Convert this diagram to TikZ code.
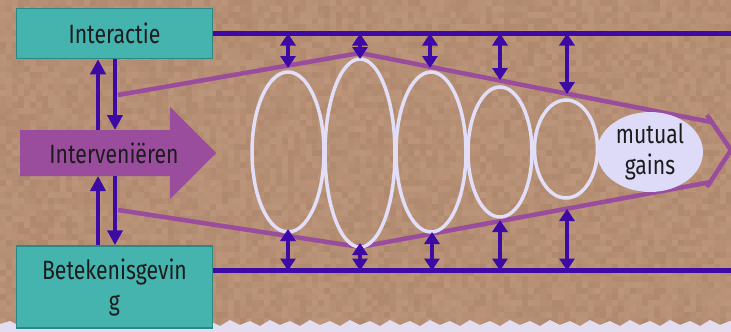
\documentclass[tikz,border=0pt]{standalone}
\usepackage{fontspec}
\setmainfont{Fira Sans}[FakeStretch=0.8]
\usetikzlibrary{arrows.meta,shapes.geometric}

\definecolor{paperlight}{HTML}{C29C80}
\definecolor{paperdark}{HTML}{A98268}
\definecolor{tealbox}{HTML}{45B3AE}
\definecolor{tealedge}{HTML}{2A8984}
\definecolor{indigo}{HTML}{3D0AA6}
\definecolor{plum}{HTML}{9A4C9D}
\definecolor{lilac}{HTML}{E2DEF8}
\definecolor{lilacfill}{HTML}{DEDBF8}
\definecolor{ink}{HTML}{1C1C1C}
\definecolor{strip}{HTML}{E4DDEF}

\tikzset{
  label text/.style={font=\fontsize{26.5}{31}\selectfont, text=ink},
  tealnode/.style={draw=tealedge, line width=1.5pt, fill=tealbox,
    minimum width=196pt, align=center, label text},
  axisline/.style={draw=indigo, line width=4.5pt},
  funnel/.style={draw=plum, line width=4.5pt, line join=miter},
  ring/.style={ellipse, draw=lilac, line width=3.5pt, inner sep=0pt},
  updown/.style={draw=indigo, line width=4pt,
    {Triangle[width=15pt,length=12pt]}-{Triangle[width=15pt,length=12pt]}},
  oneway/.style={draw=indigo, line width=4.5pt, -{Triangle[width=15pt,length=15pt]}},
}

\begin{document}
\begin{tikzpicture}[x=1pt,y=-1pt]
\useasboundingbox (0,0) rectangle (731,332);

% parchment background
\fill[paperdark!50!paperlight] (0,0) rectangle (731,332);
\pgfmathsetseed{7}
\foreach \i in {0,...,121}{
  \foreach \j in {0,...,55}{
    \pgfmathrandominteger{\r}{25}{75}
    \fill[paperlight!\r!paperdark] (\i*6,\j*6) rectangle ++(6,6);
  }
}
% pale torn strip along the lower edge
\fill[strip] (0,332) -- (0,324)
  \foreach \k in {0,...,18}{ -- ({\k*40+10},321) -- ({\k*40+20},326) -- ({\k*40+30},320) -- ({\k*40+40},325) }
  -- (731,332) -- cycle;

% boxes
\node[tealnode, minimum height=50pt] (inter) at (114.5,33.5) {Interactie};
\node[tealnode, minimum height=82pt] (beteken) at (114.5,287) {Betekenisgevin\\g};

% horizontal rails
\coordinate (topend) at (731,33.5);
\coordinate (botend) at (731,270.5);
\draw[axisline] (inter.east) -- (topend);
\draw[axisline] (inter.east |- botend) -- (botend);

% big arrow
\fill[plum] (20,130) -- (170,130) -- (170,107) -- (216,153) -- (170,199)
  -- (170,176) -- (20,176) -- cycle;
\node[label text] (interv) at (114,153) {Interveniëren};

% links between boxes and arrow
\coordinate (xl) at (98,0);
\coordinate (xr) at (115,0);
\coordinate (shafttop) at (0,130);
\coordinate (shaftbot) at (0,176);
\draw[oneway] (xl |- shafttop) -- (xl |- inter.south);
\draw[oneway] (xr |- inter.south) -- (xr |- shafttop);
\draw[oneway] (xl |- beteken.north) -- (xl |- shaftbot);
\draw[oneway] (xr |- shaftbot) -- (xr |- beteken.north);

% funnel
\coordinate (tl0) at (118,95);
\coordinate (tl1) at (360,53);
\coordinate (tl2) at (711,122);
\coordinate (bl0) at (118,210);
\coordinate (bl1) at (360,247);
\coordinate (bl2) at (711,182);
\coordinate (cv1) at (707,115);
\coordinate (cvtip) at (731,150);
\coordinate (cv2) at (707,187);
\draw[funnel] (tl0) -- (tl1) -- (tl2);
\draw[funnel] (bl0) -- (bl1) -- (bl2);
\draw[funnel] (cv1) -- (cvtip) -- (cv2);

% rings
\node[ring, minimum width=72pt, minimum height=160pt] (e1) at (288,152) {};
\node[ring, minimum width=70pt, minimum height=188pt] (e2) at (360,153) {};
\node[ring, minimum width=70pt, minimum height=160pt] (e3) at (431,152) {};
\node[ring, minimum width=64pt, minimum height=130pt] (e4) at (500,152) {};
\node[ring, minimum width=63pt, minimum height=98pt] (e5) at (566,149) {};
\node[ellipse, fill=lilacfill, minimum width=106pt, minimum height=74pt,
  inner sep=0pt, align=center, label text] (mg) at (650,152) {mutual\\gains};

% spacing arrows to the rails
\coordinate (u1) at (288,68);
\coordinate (u2) at (360,59);
\coordinate (u3) at (430,68);
\coordinate (u4) at (500,80);
\coordinate (u5) at (567,94);
\coordinate (d1) at (288,229);
\coordinate (d2) at (360,243);
\coordinate (d3) at (432,232);
\coordinate (d4) at (500,220);
\coordinate (d5) at (567,209);
\foreach \p in {u1,u2,u3,u4,u5}{
  \draw[updown] (\p |- topend) -- (\p);
}
\foreach \p in {d1,d2,d3,d4,d5}{
  \draw[updown] (\p) -- (\p |- botend);
}
\end{tikzpicture}
\end{document}
